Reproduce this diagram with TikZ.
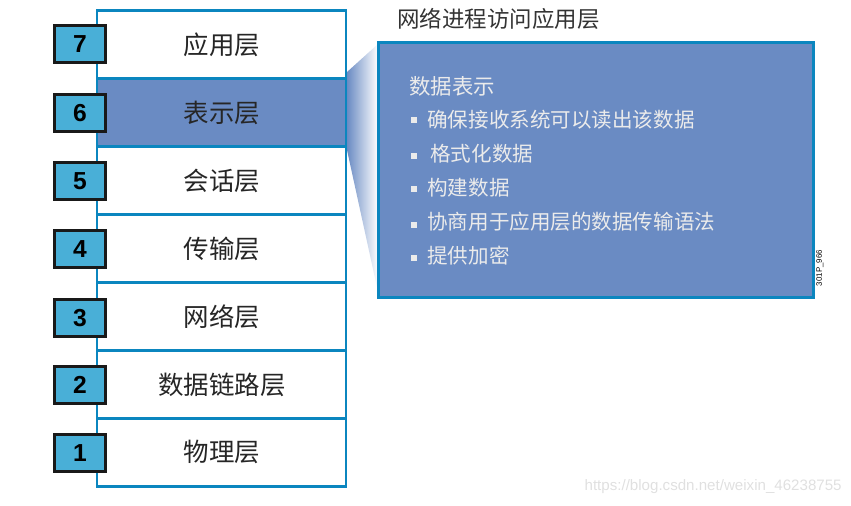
\documentclass[tikz,border=0pt]{standalone}
\usepackage{fontspec}
\setmainfont{Liberation Sans}
\newfontfamily\cjk{Noto Sans CJK SC}
\usepackage{tikz}
\usetikzlibrary{positioning}
\definecolor{cEdge}{HTML}{0B86BF}
\definecolor{cSel}{HTML}{6A8BC3}
\definecolor{cNum}{HTML}{49AFD7}
\tikzset{
  layer/.style={font=\cjk\fontsize{14.5}{16}\selectfont, text=black!85},
  numbox/.style={draw=black!90, line width=1.2pt, fill=cNum, minimum width=1.02cm,
                 minimum height=0.74cm, inner sep=0pt, font=\bfseries\fontsize{14}{16}\selectfont},
  item/.style={right, font=\cjk\fontsize{11.7}{14}\selectfont, text=white!92!black, inner sep=0pt},
  bullet/.style={fill=white!92!black, minimum size=0.13cm, inner sep=0pt}
}

\begin{document}
\begin{tikzpicture}[x=0.02cm, y=-0.02cm]
    \useasboundingbox (0,0) rectangle (851,505);
    % layer stack
    \draw[cEdge, line width=1.7pt, fill=white] (97,10) rectangle (346,486);
    \fill[cSel] (97,78) rectangle (346,146);
    \draw[cEdge, line width=1.7pt] (97,78) -- (346,78);
    \draw[cEdge, line width=1.7pt] (97,146) -- (346,146);
    \draw[cEdge, line width=1.7pt] (97,214) -- (346,214);
    \draw[cEdge, line width=1.7pt] (97,282) -- (346,282);
    \draw[cEdge, line width=1.7pt] (97,350) -- (346,350);
    \draw[cEdge, line width=1.7pt] (97,418) -- (346,418);
    \draw[cEdge, line width=1.7pt] (97,10) rectangle (346,486);
    \node[layer] (l7) at (222,45) {应用层};
    \node[layer] (l6) at (222,113) {表示层};
    \node[layer] (l5) at (222,181) {会话层};
    \node[layer] (l4) at (222,249) {传输层};
    \node[layer] (l3) at (222,317) {网络层};
    \node[layer] (l2) at (222,385) {数据链路层};
    \node[layer] (l1) at (222,452) {物理层};
    \node[numbox] (n7) at (80,44) {7};
    \node[numbox] (n6) at (80,113) {6};
    \node[numbox] (n5) at (80,181) {5};
    \node[numbox] (n4) at (80,249) {4};
    \node[numbox] (n3) at (80,318) {3};
    \node[numbox] (n2) at (80,385) {2};
    \node[numbox] (n1) at (80,453) {1};
    % zoom wedge and detail panel
    \shade[left color=cSel, right color=white] (347,72) -- (378,44) -- (378,292) -- (347,150) -- cycle;
    \draw[cEdge, line width=1.7pt, fill=cSel] (378,42) rectangle (813,297);
    \node[right, inner sep=0pt, font=\cjk\fontsize{12.8}{14}\selectfont, text=black!80] (title) at (397,19) {网络进程访问应用层};
    \node[item, font=\cjk\fontsize{12.2}{14}\selectfont] (head) at (409,86) {数据表示};
    \node[bullet] (b1) at (414,120) {};
    \node[item] (i1) at (427,120) {确保接收系统可以读出该数据};
    \node[bullet] (b2) at (414,156) {};
    \node[item] (i2) at (430,154) {格式化数据};
    \node[bullet] (b3) at (414,189) {};
    \node[item] (i3) at (427,188) {构建数据};
    \node[bullet] (b4) at (414,225) {};
    \node[item] (i4) at (427,222) {协商用于应用层的数据传输语法};
    \node[bullet] (b5) at (414,258) {};
    \node[item] (i5) at (427,256) {提供加密};
    \node[rotate=90, font=\fontsize{4.5}{5}\selectfont, inner sep=0pt] (tag) at (820,268) {301P\_966};
    \node[anchor=east, font=\fontsize{8.6}{10}\selectfont, text=black!12, inner sep=0pt] (mark) at (842,487) {https://blog.csdn.net/weixin\_46238755};
\end{tikzpicture}
\end{document}
